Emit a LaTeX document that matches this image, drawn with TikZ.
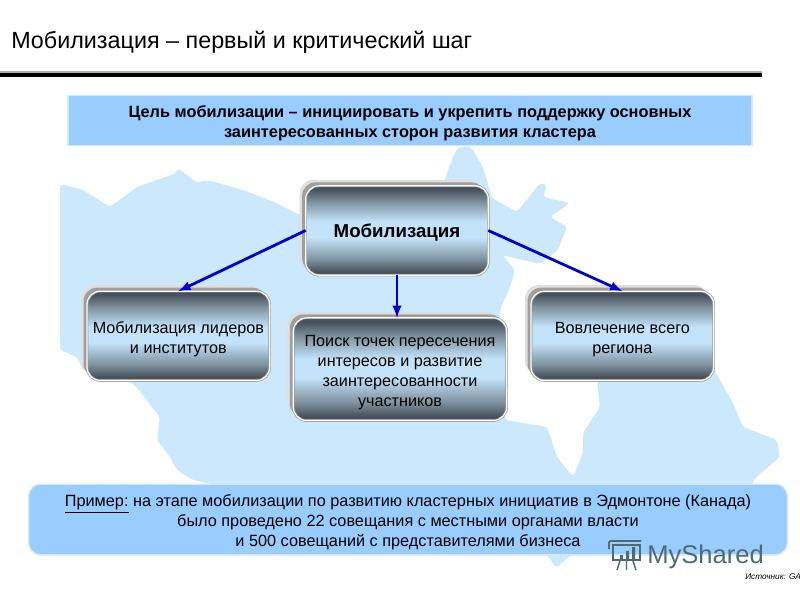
\documentclass[tikz,border=0pt]{standalone}
\usepackage{fontspec}
\setmainfont{Liberation Sans}
\usetikzlibrary{positioning,shadows,arrows}

\definecolor{mapblue}{HTML}{CBE8FC}
\definecolor{panelblue}{HTML}{99CCFF}
\definecolor{paneledge}{HTML}{D2E8FB}
\definecolor{stepdark}{HTML}{47525C}
\definecolor{stepmid}{HTML}{7F929F}
\definecolor{steplight}{HTML}{C3E3FA}
\definecolor{logogrey}{HTML}{4E6B70}
\definecolor{linkblue}{HTML}{0000CC}

\pgfdeclareverticalshading{stepshade}{100bp}{color(0bp)=(stepdark); color(27bp)=(stepdark);
    color(34bp)=(stepmid); color(46bp)=(steplight); color(55bp)=(steplight);
    color(66bp)=(stepmid); color(73bp)=(stepdark); color(100bp)=(stepdark)}

\newcommand{\lowtext}{\rule{0pt}{13.5pt}}

\begin{document}
\begin{tikzpicture}[x=0.75pt,
            y=-0.75pt,
            >=latex,
            on grid,
            stepbox/.style={rectangle,
                rounded corners=10pt,
                align=center,
                outer sep=0pt,
                draw=gray!80,
                double=white,
                double distance=0.9pt,
                line width=0.5pt,
                shading=stepshade,
                general shadow={shadow xshift=-4.5pt,shadow yshift=4.5pt,fill=gray!25},
                general shadow={shadow xshift=-2.6pt,shadow yshift=2.6pt,fill=gray!75},
                font=\fontsize{12.15}{15}\selectfont},
            panel/.style={rectangle,
                align=center,
                fill=panelblue,
                draw=paneledge,
                line width=1pt,
                font=\fontsize{12.2}{15}\selectfont},
            link/.style={->,color=linkblue,line width=2.1pt}]

        \useasboundingbox (0,0) rectangle (800,600);

        \fill[mapblue,rounded corners=2.5pt]
            (60,184) -- (83,190) -- (110,207) -- (137,187) -- (177,173) -- (178,168)
            -- (197,183) -- (207,180) -- (243,190) -- (277,203) -- (290,210) -- (300,215)
            -- (440,195) -- (448,170) -- (457,148) -- (470,146) -- (483,167) -- (492,198)
            -- (517,212) -- (540,183) -- (547,185) -- (543,197) -- (570,203) -- (550,217)
            -- (567,227) -- (558,250) -- (540,264) -- (502,255) -- (515,270) -- (510,287)
            -- (500,310) -- (505,420) -- (547,427) -- (557,457) -- (573,477) -- (583,453)
            -- (583,433) -- (600,407) -- (597,381) -- (710,378) -- (713,368) -- (733,403)
            -- (743,427) -- (777,440) -- (780,457) -- (753,480) -- (753,490) -- (600,540)
            -- (570,556) -- (556,568) -- (548,556) -- (193,480) -- (177,470) -- (170,457)
            -- (157,440) -- (160,417) -- (133,383) -- (110,378) -- (83,370) -- (77,357)
            -- (60,350) -- cycle;

        \node[anchor=base west,inner sep=0pt,font=\fontsize{17.5}{20}\selectfont]
            (title) at (11,48) {Мобилизация – первый и критический шаг};

        \fill[gray!60] (0,71) rectangle (762,73);
        \fill[black] (0,73) rectangle (762,76.5);

        \node[panel,minimum width=513pt,minimum height=36pt,font=\fontsize{12.25}{15}\selectfont\bfseries]
            (goal) at (410,120.5) {\lowtext Цель мобилизации – инициировать и укрепить поддержку основных\\
                                   заинтересованных сторон развития кластера};

        \node[stepbox,minimum width=137pt,minimum height=67pt,font=\fontsize{14}{15}\selectfont\bfseries]
            (mob) at (397,230.5) {\lowtext Мобилизация};
        \node[stepbox,minimum width=137pt,minimum height=67pt]
            (lead) [below left=79pt and 164pt of mob] {\lowtext Мобилизация лидеров\\и институтов};
        \node[stepbox,minimum width=160pt,minimum height=77pt]
            (cross) [below=104pt of mob,xshift=2.25pt] {\lowtext Поиск точек пересечения\\интересов и развитие\\
                                                       заинтересованности\\участников};
        \node[stepbox,minimum width=137pt,minimum height=67pt]
            (region) [below right=79pt and 169pt of mob] {\lowtext Вовлечение всего\\региона};

        \draw[link] (mob.west) -- (lead.north);
        \draw[link] (mob.south) -- (mob.south |- cross.north);
        \draw[link] (mob.east) -- (region.north);

        \node[panel,rounded corners=9pt,minimum width=569pt,minimum height=53pt]
            (example) at (408,519.5) {\lowtext\underline{Пример:} на этапе мобилизации по развитию кластерных инициатив в Эдмонтоне (Канада)\\
                                    было проведено 22 совещания с местными органами власти\\
                                    и 500 совещаний с представителями бизнеса};

        \draw[logogrey,line width=1.4pt] (613,545) rectangle (640,560);
        \draw[logogrey,line width=1.4pt,rounded corners=1pt] (609,549) -- (609,541) -- (641,541);
        \fill[logogrey] (620,555) rectangle (623,559)
                        (626,551) rectangle (629,559)
                        (632,547) rectangle (635,559);
        \draw[logogrey,line width=1.1pt] (620,561) -- (617,570)
                                         (626.5,561) -- (626.5,570)
                                         (633,561) -- (636,570);

        \node[anchor=base west,inner sep=0pt,text=logogrey,font=\fontsize{19.2}{24}\selectfont]
            (brand) at (647,563) {MyShared};
        \node[anchor=base west,inner sep=0pt,font=\fontsize{6.2}{8}\selectfont\itshape]
            (source) at (745,579) {Источник: GA};

    \end{tikzpicture}
\end{document}
